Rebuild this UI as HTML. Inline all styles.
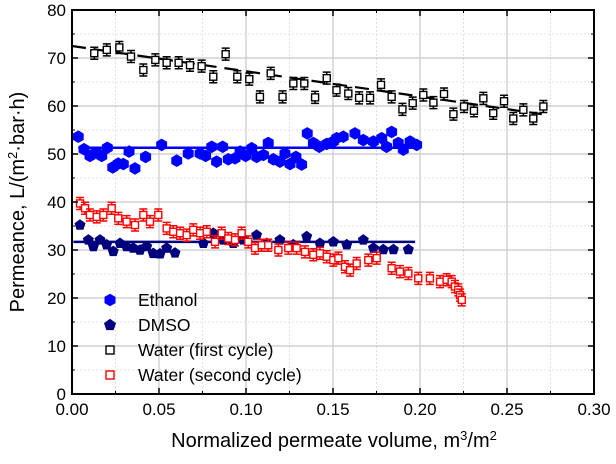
<!DOCTYPE html>
<html><head><meta charset="utf-8"><style>
body{margin:0;background:#fff}
svg{display:block;font-family:"Liberation Sans",Arial,sans-serif}
</style></head><body>
<svg id="c" width="616" height="464" xmlns="http://www.w3.org/2000/svg"></svg>
<script>
const xTicks=[0,0.05,0.10,0.15,0.20,0.25,0.30];
const xTickLabels=["0.00","0.05","0.10","0.15","0.20","0.25","0.30"];
const yTicks=[0,10,20,30,40,50,60,70,80];
const yTickLabels=["0","10","20","30","40","50","60","70","80"];
const water1X=[0.0128,0.020,0.0272,0.0339,0.041,0.0479,0.0544,0.0613,0.0678,0.0745,0.0812,0.0883,0.095,0.1019,0.108,0.1142,0.121,0.1272,0.1335,0.1397,0.1464,0.152,0.1588,0.165,0.1713,0.1776,0.1837,0.1899,0.1958,0.2019,0.2077,0.2138,0.2192,0.2253,0.231,0.2364,0.2421,0.2483,0.2536,0.2594,0.2651,0.2709];
const water1Y=[71.0,71.7,72.2,70.3,67.5,69.6,69.0,69.0,68.5,68.3,66.1,70.8,66.1,65.6,61.9,66.8,61.9,64.7,64.7,61.8,65.8,63.3,62.6,61.7,61.7,64.4,61.9,59.3,60.6,62.3,60.7,62.5,58.3,59.9,59.0,61.6,58.5,61.0,57.4,59.2,57.4,59.9];
const water1Fit=[[0,72.5],[0.27,58.3]];
const ethX=[0.0036,0.0069,0.0103,0.0138,0.0171,0.0203,0.0234,0.0266,0.0295,0.0328,0.0362,0.0423,0.0515,0.0602,0.0668,0.0736,0.0768,0.0803,0.0831,0.0866,0.0898,0.0937,0.0966,0.0998,0.1033,0.1061,0.1100,0.1128,0.1157,0.1195,0.1224,0.1253,0.1287,0.1320,0.1352,0.1387,0.1421,0.1464,0.1521,0.1502,0.1559,0.1626,0.1674,0.1732,0.1780,0.1808,0.1837,0.1875,0.1904,0.1943,0.1981];
const ethY=[53.6,51.0,49.6,50.3,49.6,51.3,47.2,48.0,47.9,50.5,47.0,49.4,51.9,48.6,50.1,50.1,49.6,51.5,48.4,51.5,48.9,49.1,50.5,49.6,51.2,49.4,49.8,52.3,48.9,48.4,50.1,47.9,49.4,47.8,54.3,52.3,51.5,52.1,53.3,52.6,53.6,54.3,52.9,52.6,53.3,51.5,54.6,52.3,50.9,52.6,51.9];
const ethFit=[[0.0036,51.3],[0.2,51.3]];
const dmsoX=[0.0046,0.0094,0.0123,0.0161,0.0199,0.0237,0.0276,0.0314,0.0352,0.0391,0.0429,0.0467,0.0506,0.0544,0.0592,0.0755,0.0812,0.0870,0.0927,0.0985,0.1061,0.1119,0.1195,0.1272,0.1349,0.1425,0.1502,0.1579,0.1674,0.1732,0.1789,0.1847,0.1933];
const dmsoY=[35.2,32.1,30.7,32.1,31.1,29.7,31.4,30.7,30.4,30.0,30.7,29.3,29.2,30.4,29.4,31.4,33.5,32.1,31.4,32.1,33.1,31.4,32.1,31.1,32.8,31.4,31.7,31.1,32.1,30.4,30.1,30.1,30.1];
const dmsoFit=[[0.0008,31.7],[0.1972,31.7]];
const water2X=[0.0046,0.0075,0.0103,0.0142,0.018,0.0228,0.0266,0.0314,0.0362,0.041,0.0448,0.0496,0.0544,0.0582,0.0621,0.0659,0.0697,0.0736,0.0774,0.0822,0.0860,0.0898,0.0937,0.0975,0.1013,0.1052,0.1090,0.1128,0.1186,0.1243,0.1291,0.1339,0.1387,0.1425,0.1464,0.1502,0.1531,0.1569,0.1598,0.1636,0.1703,0.1751,0.1837,0.1885,0.1933,0.1990,0.2057,0.2115,0.2153,0.2182,0.2201,0.2220,0.2230,0.2240];
const water2Y=[39.7,38.7,37.3,36.9,37.3,38.7,36.6,35.9,35.2,37.3,35.9,37.3,34.5,33.8,33.5,33.1,34.2,33.5,33.8,31.7,33.5,32.4,32.1,33.5,31.7,30.4,31.0,31.0,30.0,30.4,30.4,29.6,29.0,29.3,28.6,27.9,28.3,26.5,25.8,27.2,27.9,28.3,26.2,25.5,25.1,24.1,24.1,23.4,23.8,23.4,22.4,21.7,20.6,19.6];

const svg=document.getElementById('c');
const NS='http://www.w3.org/2000/svg';
const L=72,R=594,T=10,B=394;
const sx=v=>L+(v-0)/0.30*(R-L);
const sy=v=>B-(v/80)*(B-T);
function mk(tag,attrs,parent){const e=document.createElementNS(NS,tag);for(const k in attrs)e.setAttribute(k,attrs[k]);(parent||svg).appendChild(e);return e;}

const grid=mk('g',{});


for(let i=0;i<=12;i++){const v=i*0.025;const major=i%2==0;
 mk('line',{x1:sx(v),x2:sx(v),y1:T,y2:B,stroke:major?'#c8c8c8':'#e0e0e0','stroke-width':major?1.2:1,'stroke-dasharray':major?'':'2,2'},grid);}
for(let i=0;i<=16;i++){const v=i*5;const major=i%2==0;
 mk('line',{x1:L,x2:R,y1:sy(v),y2:sy(v),stroke:major?'#c8c8c8':'#e0e0e0','stroke-width':major?1.2:1,'stroke-dasharray':major?'':'2,2'},grid);}

function fit(pts,color,w,dash,name){const l=mk('line',{x1:sx(pts[0][0]),y1:sy(pts[0][1]),x2:sx(pts[1][0]),y2:sy(pts[1][1]),stroke:color,'stroke-width':w,'stroke-dasharray':dash});
 
 }
fit(water1Fit,'#000',2.2,'14,8','water1-fit-line');

function sqErr(X,Y,color,name){const g=mk('g',{});
 
 
 X.forEach((x,i)=>{const cx=sx(x),cy=sy(Y[i]);const e=6;
  mk('path',{d:`M${cx} ${cy-e}V${cy+e}M${cx-4} ${cy-e}H${cx+4}M${cx-4} ${cy+e}H${cx+4}`,stroke:color,'stroke-width':1.5,fill:'none'},g);
  mk('rect',{x:cx-3.5,y:cy-3.5,width:7,height:7,fill:'#fff',stroke:color,'stroke-width':1.4},g);});}
sqErr(water1X,water1Y,'#000','water1-series');

function poly(cx,cy,r,n,rot){let p=[];for(let k=0;k<n;k++){const a=rot+k*2*Math.PI/n;p.push((cx+r*Math.cos(a)).toFixed(1)+','+(cy+r*Math.sin(a)).toFixed(1));}return p.join(' ');}
const eg=mk('g',{});


ethX.forEach((x,i)=>mk('polygon',{points:poly(sx(x),sy(ethY[i]),6.3,6,Math.PI/6),fill:'#0000ff'},eg));
fit(ethFit,'#0000ff',2.5,'','ethanol-fit-line');

const dg=mk('g',{});


dmsoX.forEach((x,i)=>mk('polygon',{points:poly(sx(x),sy(dmsoY[i]),5.8,5,-Math.PI/2),fill:'#00007f'},dg));
fit(dmsoFit,'#00007f',2.5,'','dmso-fit-line');

sqErr(water2X,water2Y,'#ff0000','water2-series');

const fr=mk('rect',{x:L,y:T,width:R-L,height:B-T,fill:'none',stroke:'#000','stroke-width':2});


xTicks.forEach((v,i)=>{mk('line',{x1:sx(v),x2:sx(v),y1:B,y2:B-6,stroke:'#000','stroke-width':1.5});mk('line',{x1:sx(v),x2:sx(v),y1:T,y2:T+6,stroke:'#000','stroke-width':1.5});
 const t=mk('text',{x:sx(v),y:B+21,'text-anchor':'middle','font-size':17});t.textContent=xTickLabels[i];
 
 });
for(let i=1;i<12;i+=2){const v=i*0.025;mk('line',{x1:sx(v),x2:sx(v),y1:B,y2:B-3,stroke:'#000'});mk('line',{x1:sx(v),x2:sx(v),y1:T,y2:T+3,stroke:'#000'});}
yTicks.forEach((v,i)=>{mk('line',{x1:L,x2:L+6,y1:sy(v),y2:sy(v),stroke:'#000','stroke-width':1.5});mk('line',{x1:R,x2:R-6,y1:sy(v),y2:sy(v),stroke:'#000','stroke-width':1.5});
 const t=mk('text',{x:L-6,y:sy(v)+6,'text-anchor':'end','font-size':17});t.textContent=yTickLabels[i];
 
 });
for(let i=1;i<16;i+=2){const v=i*5;mk('line',{x1:L,x2:L+3,y1:sy(v),y2:sy(v),stroke:'#000'});mk('line',{x1:R,x2:R-3,y1:sy(v),y2:sy(v),stroke:'#000'});}

const xt=mk('text',{x:334,y:447,'text-anchor':'middle','font-size':20});
xt.innerHTML='Normalized permeate volume, m<tspan dy="-7" font-size="13">3</tspan><tspan dy="7">/m</tspan><tspan dy="-7" font-size="13">2</tspan>';


const yt=mk('text',{transform:'translate(24,202) rotate(-90)','text-anchor':'middle','font-size':20});
yt.innerHTML='Permeance, L/(m<tspan dy="-7" font-size="13">2</tspan><tspan dy="7">·bar·h)</tspan>';



const lg=mk('g',{});


const ents=[['Ethanol','hex','#0000ff'],['DMSO','pent','#00007f'],['Water (first cycle)','sq','#000'],['Water (second cycle)','sq','#ff0000']];
ents.forEach((e,i)=>{const y=300+i*25;const cx=110;
 if(e[1]=='hex')mk('polygon',{points:poly(cx,y,6.3,6,Math.PI/6),fill:e[2]},lg);
 else if(e[1]=='pent')mk('polygon',{points:poly(cx,y,6.3,5,-Math.PI/2),fill:e[2]},lg);
 else mk('rect',{x:cx-4,y:y-4,width:8,height:8,fill:'#fff',stroke:e[2],'stroke-width':1.4},lg);
 const t=mk('text',{x:138,y:y+6,'font-size':17.5},lg);t.textContent=e[0];
 
 });
</script>
</body></html>
